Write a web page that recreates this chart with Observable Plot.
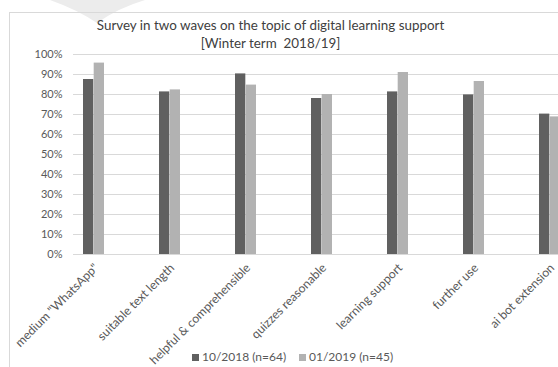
<!DOCTYPE html>
<html><head><meta charset="utf-8">
<script src="https://cdn.jsdelivr.net/npm/d3@7"></script>
<script src="https://cdn.jsdelivr.net/npm/@observablehq/plot@0.6"></script>
<style>
html,body{margin:0;padding:0;background:#fff;overflow:hidden}
#wrap{position:relative;width:558px;height:367px;font-family:Lato,sans-serif;overflow:hidden;background:#fff}
#wm{position:absolute;left:0;top:0}
#box{position:absolute;left:9px;top:12px;width:600px;height:400px;border-left:1px solid #d9d9d9;border-top:1px solid #d9d9d9}
#chart{position:absolute;left:0;top:0}
.t{position:absolute;left:0;width:541px;text-align:center;color:#404040;font-size:13.4px;white-space:nowrap;line-height:18px}
.leg{position:absolute;top:350px;font-size:12px;color:#595959;white-space:nowrap;line-height:14px}
.sw{display:inline-block;width:7px;height:7px;margin-right:3px;vertical-align:0px}
</style></head>
<body>
<div id="wrap">
  <svg id="wm" width="558" height="40"><path d="M50,0 Q78,10 97,23 Q118,8 145,0 Z" fill="#ececec"/></svg>
  <div id="box"></div>
  <div id="chart"></div>
  <div class="t" style="top:16px">Survey in two waves on the topic of digital learning support</div>
  <div class="t" style="top:34px">[Winter term&nbsp; 2018/19]</div>
  <div id="legend"></div>
</div>
<script>
const categories = ['medium "WhatsApp"', "suitable text length", "helpful & comprehensible", "quizzes reasonable", "learning support", "further use", "ai bot extension"];
const series = ["10/2018 (n=64)", "01/2019 (n=45)"];
const wave1 = [87.5, 81.3, 90.3, 78, 81.3, 79.8, 70.2];
const wave2 = [95.7, 82.3, 84.7, 80, 91, 86.5, 68.8];
const yTicks = [0, 10, 20, 30, 40, 50, 60, 70, 80, 90, 100];
const colors = ["#606060", "#b2b2b2"];

const xOpts = {domain: categories, range: [73, 571], paddingInner: 0.72, paddingOuter: 0.122, axis: null};
const half = Plot.scale({x: {type: "band", ...xOpts}}).bandwidth / 2;

const plot = Plot.plot({
  width: 558,
  height: 367,
  marginTop: 54,
  marginBottom: 113,
  marginLeft: 73,
  marginRight: 0,
  style: {background: "transparent", fontFamily: "Lato, sans-serif", overflow: "hidden"},
  x: xOpts,
  y: {domain: [0, 100], axis: null},
  marks: [
    Plot.ruleY(yTicks, {y: d => d, stroke: "#d9d9d9", strokeWidth: 1}),
    Plot.text(yTicks, {y: d => d, text: d => d + "%", frameAnchor: "left", textAnchor: "end", dx: -11, fontSize: 11, fill: "#595959"}),
    Plot.barY(categories, {x: d => d, y: (d, i) => wave1[i], fill: colors[0], insetRight: half}),
    Plot.barY(categories, {x: d => d, y: (d, i) => wave2[i], fill: colors[1], insetLeft: half}),
    Plot.text(categories, {x: d => d, text: d => d, frameAnchor: "bottom", rotate: -45, textAnchor: "end", lineAnchor: "top", dy: 8, dx: -1, fontSize: 12.2, fill: "#595959"})
  ]
});
document.getElementById("chart").appendChild(plot);

const legend = document.getElementById("legend");
const legX = [192, 299];
series.forEach((s, i) => {
  const d = document.createElement("div");
  d.className = "leg";
  d.style.left = legX[i] + "px";
  d.innerHTML = `<span class="sw" style="background:${colors[i]}"></span>${s}`;
  legend.appendChild(d);
});
</script>
</body></html>
